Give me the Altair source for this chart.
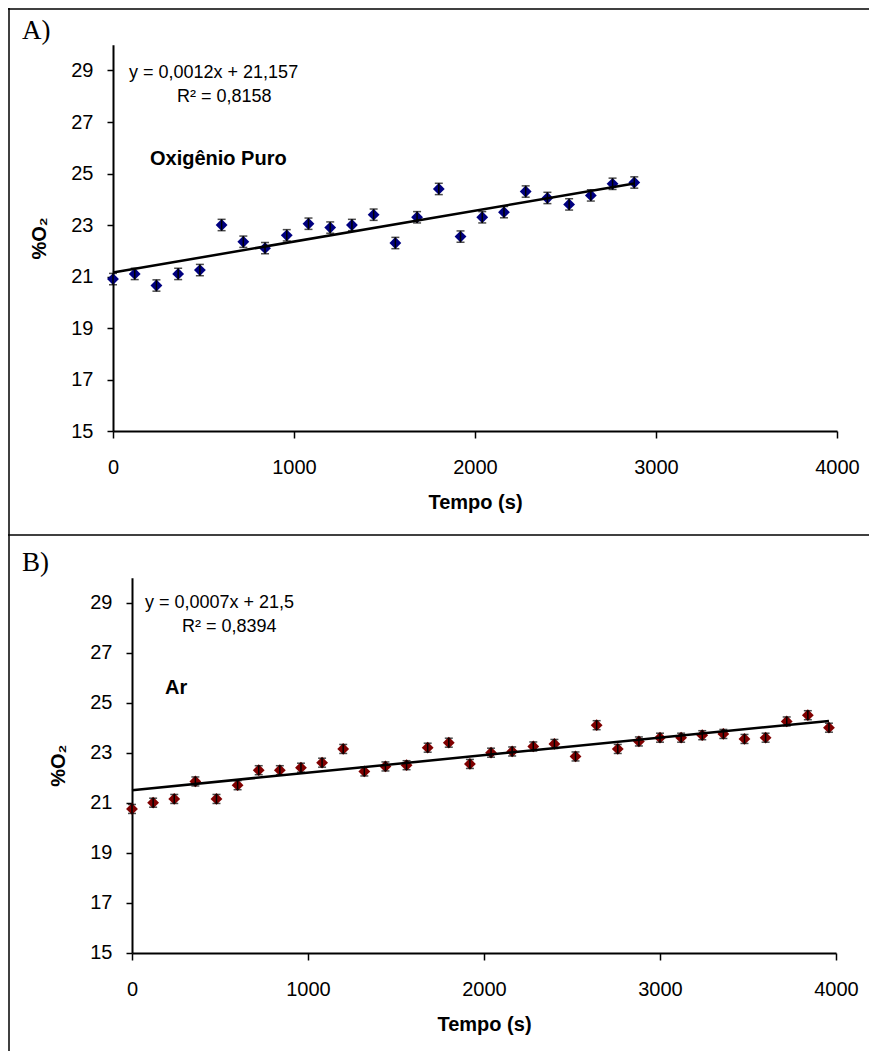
import altair as alt
import pandas as pd

# ---------------- data ----------------
time_A = [0, 120, 240, 360, 480, 600, 720, 840, 960, 1080, 1200, 1320, 1440,
          1560, 1680, 1800, 1920, 2040, 2160, 2280, 2400, 2520, 2640, 2760, 2880]
o2_A = [20.9, 21.1, 20.65, 21.1, 21.25, 23.0, 22.35, 22.1, 22.6, 23.05, 22.9, 23.0, 23.4,
        22.3, 23.3, 24.4, 22.55, 23.3, 23.5, 24.3, 24.05, 23.8, 24.15, 24.6, 24.65]
err_A = 0.22

time_B = [0, 120, 240, 360, 480, 600, 720, 840, 960, 1080, 1200, 1320, 1440, 1560,
          1680, 1800, 1920, 2040, 2160, 2280, 2400, 2520, 2640, 2760, 2880, 3000,
          3120, 3240, 3360, 3480, 3600, 3720, 3840, 3960]
o2_B = [20.75, 21.0, 21.15, 21.85, 21.15, 21.7, 22.3, 22.3, 22.4, 22.6, 23.15, 22.25,
        22.45, 22.5, 23.2, 23.4, 22.55, 23.0, 23.05, 23.25, 23.35, 22.85, 24.1, 23.15,
        23.45, 23.6, 23.6, 23.7, 23.75, 23.55, 23.6, 24.25, 24.5, 24.0]
err_B = 0.18

slope_A, icpt_A = 0.0012, 21.157
slope_B, icpt_B = 0.0007, 21.5

x_ticks = [0, 1000, 2000, 3000, 4000]
y_ticks = [15, 17, 19, 21, 23, 25, 27, 29]

eq_A = ["y = 0,0012x + 21,157", "R² = 0,8158"]
eq_B = ["y = 0,0007x + 21,5", "R² = 0,8394"]

# ---------------- layout ----------------
W, H = 861, 1043
FONT = "Liberation Sans"
one = pd.DataFrame({"a": [0]})


def txt(label, x, y, size=18, bold=False, font=FONT, baseline="middle"):
    return alt.Chart(one).mark_text(
        text=label, align="left", baseline=baseline, fontSize=size,
        fontWeight="bold" if bold else "normal", font=font, color="black"
    ).encode(x=alt.value(x), y=alt.value(y))


def panel(times, vals, err, slope, icpt, color, xrange, yrange, xoff, yoff,
          eq, eq_pos, r2_pos, name, name_pos, letter, letter_pos):
    df = pd.DataFrame({
        "t": times, "o2": vals,
        "lo": [v - err for v in vals], "hi": [v + err for v in vals],
    })
    trend = pd.DataFrame({"t": [times[0], times[-1]],
                          "o2": [icpt + slope * times[0], icpt + slope * times[-1]]})
    xs = alt.Scale(domain=[0, 4000], range=xrange, nice=False, zero=False)
    ys = alt.Scale(domain=[15, 30], range=yrange, nice=False, zero=False)
    common = dict(domainColor="black", domainWidth=2, tickColor="black", tickWidth=1.5,
                  labelFont=FONT, labelFontSize=20, labelColor="black",
                  titleFont=FONT, titleFontSize=20, titleFontWeight="bold",
                  titleColor="black", grid=False, labelOverlap=False, labelFlush=False)
    xax = alt.Axis(orient="bottom", offset=xoff, values=x_ticks, format="d",
                   title="Tempo (s)", tickSize=7, labelPadding=19, titlePadding=15,
                   **common)
    yax = alt.Axis(orient="left", offset=yoff, values=y_ticks, format="d",
                   title="%O₂", tickSize=6, labelPadding=14, titlePadding=21,
                   **common)
    X = alt.X("t:Q", scale=xs, axis=xax)

    def Y(f):
        return alt.Y(f"{f}:Q", scale=ys, axis=yax)

    base = alt.Chart(df)
    pts = base.mark_point(shape="diamond", filled=True, size=140, color=color,
                          opacity=1).encode(x=X, y=Y("o2"))
    bars = base.mark_rule(color="black", strokeWidth=1.5).encode(
        x=X, y=Y("lo"), y2="hi")
    cap_hi = base.mark_tick(orient="horizontal", color="black", size=8,
                            thickness=1.5).encode(x=X, y=Y("hi"))
    cap_lo = base.mark_tick(orient="horizontal", color="black", size=8,
                            thickness=1.5).encode(x=X, y=Y("lo"))
    line = alt.Chart(trend).mark_line(color="black", strokeWidth=2.5).encode(
        x=X, y=Y("o2"))
    texts = [
        txt(eq[0], *eq_pos),
        txt(eq[1], *r2_pos),
        txt(name, *name_pos, size=20, bold=True),
        txt(letter, *letter_pos, size=27, font="Liberation Serif",
            baseline="alphabetic"),
    ]
    return alt.layer(pts, bars, cap_hi, cap_lo, line, *texts)


panel_A = panel(time_A, o2_A, err_A, slope_A, icpt_A, "#000080",
                xrange=[105, 829], yrange=[423, 36.75], xoff=423 - H, yoff=-105,
                eq=eq_A, eq_pos=(121, 65), r2_pos=(169, 89),
                name="Oxigênio Puro", name_pos=(142, 151),
                letter="A)", letter_pos=(14, 31))

panel_B = panel(time_B, o2_B, err_B, slope_B, icpt_B, "#800000",
                xrange=[124, 828], yrange=[944.7, 569.7], xoff=945 - H, yoff=-124,
                eq=eq_B, eq_pos=(137, 595), r2_pos=(174, 619),
                name="Ar", name_pos=(157, 680),
                letter="B)", letter_pos=(14, 563))

# frame lines around the two panels
frame = alt.layer(
    alt.Chart(one).mark_rule(color="black", strokeWidth=1.5).encode(
        x=alt.value(1), y=alt.value(0), y2=alt.value(H)),
    alt.Chart(one).mark_rule(color="black", strokeWidth=1.5).encode(
        x=alt.value(0), x2=alt.value(W), y=alt.value(1)),
    alt.Chart(one).mark_rule(color="black", strokeWidth=1.5).encode(
        x=alt.value(0), x2=alt.value(W), y=alt.value(527)),
)

chart = alt.layer(frame, panel_A, panel_B).resolve_scale(
    x="independent", y="independent"
).properties(
    width=W, height=H, padding=0,
    autosize=alt.AutoSizeParams(type="none"),
).configure_view(stroke=None)

chart.save("out.html", embed_options={"renderer": "svg", "actions": False})
